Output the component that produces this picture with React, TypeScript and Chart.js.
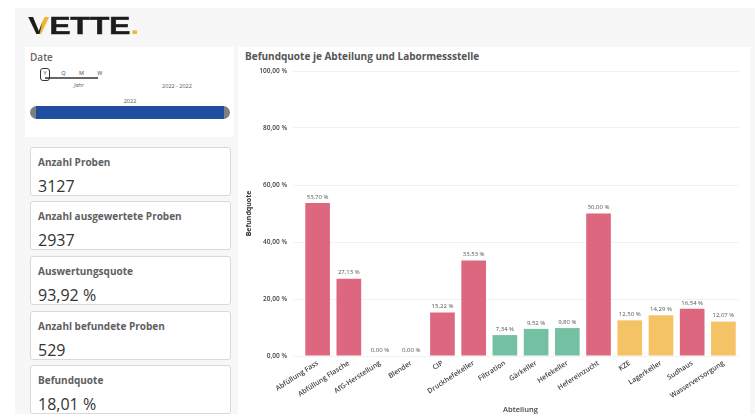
import React, { useEffect, useRef } from "react";
import { Chart, registerables } from "chart.js";

Chart.register(...registerables);

const categories = ["Abfüllung Fass", "Abfüllung Flasche", "AfG-Herstellung", "Blender", "CIP", "Druckhefekeller", "Filtration", "Gärkeller", "Hefekeller", "Hefereinzucht", "KZE", "Lagerkeller", "Sudhaus", "Wasserversorgung"];
const quote = [53.7, 27.13, 0, 0, 15.22, 33.53, 7.34, 9.52, 9.8, 50, 12.5, 14.29, 16.54, 12.07];
const colorGroup = ["r", "r", "r", "r", "r", "r", "g", "g", "g", "r", "y", "y", "r", "y"];
const palette: Record<string, string> = { r: "#DE6780", g: "#74C0A3", y: "#F3C365" };
const yTicks = [0, 20, 40, 60, 80, 100];
const kpis = [
  { title: "Anzahl Proben", value: "3127", top: 147 },
  { title: "Anzahl ausgewertete Proben", value: "2937", top: 201 },
  { title: "Auswertungsquote", value: "93,92 %", top: 256 },
  { title: "Anzahl befundete Proben", value: "529", top: 311 },
  { title: "Befundquote", value: "18,01 %", top: 365 },
];
const granularity = ["Y", "Q", "M", "W"];

const fmt = (v: number) => v.toFixed(2).replace(".", ",") + " %";
const FONT = "'Open Sans', sans-serif";

const barLabels = {
  id: "barLabels",
  afterDatasetsDraw(chart: any) {
    const { ctx } = chart;
    const meta = chart.getDatasetMeta(0);
    ctx.save();
    ctx.font = `6px ${FONT}`;
    ctx.fillStyle = "#555";
    ctx.textAlign = "center";
    ctx.textBaseline = "bottom";
    meta.data.forEach((bar: any, i: number) => {
      ctx.fillText(fmt(quote[i]), bar.x, bar.y - 3);
    });
    ctx.restore();
  },
};

const abs = (left: number, top: number, width?: number, height?: number): React.CSSProperties => ({
  position: "absolute", left, top, width, height, boxSizing: "border-box",
});

export default function App() {
  const ref = useRef<HTMLCanvasElement>(null);
  useEffect(() => {
    const chart = new Chart(ref.current!, {
      type: "bar",
      data: {
        labels: categories,
        datasets: [{
          data: quote,
          backgroundColor: colorGroup.map((c) => palette[c]),
          barPercentage: 0.79,
          categoryPercentage: 1,
        }],
      },
      plugins: [barLabels],
      options: {
        animation: false,
        responsive: false,
        layout: { padding: { top: 31, right: 16, left: 5, bottom: 0 } },
        plugins: {
          legend: { display: false },
          tooltip: { enabled: false },
        },
        scales: {
          x: {
            grid: { display: false },
            border: { display: false },
            ticks: { color: "#444", font: { size: 7, weight: 600, family: FONT }, maxRotation: 33, minRotation: 33, padding: -5, autoSkip: false },
            title: { display: true, text: "Abteilung", color: "#444", font: { size: 7.5, weight: 600, family: FONT }, padding: { top: 0, bottom: 0 } },
            afterFit(s: any) { s.height = 58; },
          },
          y: {
            min: 0,
            max: 100,
            afterBuildTicks(s: any) { s.ticks = yTicks.map((value) => ({ value })); },
            grid: { color: "#f2f2f2", drawTicks: true, tickLength: 9 },
            border: { display: false },
            ticks: { color: "#444", padding: 6, font: { size: 6.5, weight: 600, family: FONT }, callback: (v: any) => fmt(Number(v)) },
            title: { display: true, text: "Befundquote", color: "#333", font: { size: 7, weight: 700, family: FONT }, padding: 0 },
            afterFit(s: any) { s.width = 57; },
          },
        },
      },
    } as any);
    return () => chart.destroy();
  }, []);

  return (
    <div style={{ position: "fixed", inset: 0, width: 755, height: 414, overflow: "hidden", background: "#fff", fontFamily: FONT, filter: "blur(0.55px)" }}>
      <div style={{ ...abs(15, 8, 740, 406), background: "#f7f7f7" }} />

      {/* logo */}
      <div style={{ ...abs(28, 13, 140, 26), fontFamily: "'Liberation Sans', sans-serif", fontWeight: 700, fontSize: 24, lineHeight: "26px", color: "#1c1c1c", transform: "scaleX(1.34)", transformOrigin: "left top", whiteSpace: "nowrap", letterSpacing: -0.2, WebkitTextStroke: "0.4px #1c1c1c" }}>
        <span style={{ background: "linear-gradient(100deg,#1c1c1c 58%,#f2b632 62%)", WebkitBackgroundClip: "text", backgroundClip: "text", color: "transparent", WebkitTextStroke: "0px" }}>V</span>ETTE<span style={{ color: "#f2b632", WebkitTextStroke: "0px" }}>.</span>
      </div>

      {/* date slicer */}
      <div style={{ ...abs(25, 47, 209, 90), background: "#fff" }} />
      <div style={{ ...abs(30, 50), fontSize: 10, fontWeight: 600, color: "#666" }}>Date</div>
      <div style={{ ...abs(45, 77, 53, 2), background: "#666" }} />
      <div style={{ ...abs(40, 68, 10, 13), border: "1px solid #333", borderRadius: 3 }} />
      {granularity.map((g, i) => (
        <div key={g} style={{ ...abs(40 + i * 18.3, 69, 10), fontSize: 5.5, textAlign: "center", color: "#444" }}>{g}</div>
      ))}
      <div style={{ ...abs(66, 81, 26), fontSize: 5.5, fontStyle: "italic", color: "#555", textAlign: "center" }}>Jahr</div>
      <div style={{ ...abs(157, 82, 40), fontSize: 5.5, color: "#555", textAlign: "center", whiteSpace: "nowrap" }}>2022 - 2022</div>
      <div style={{ ...abs(120, 97, 20), fontSize: 5.5, color: "#555", textAlign: "center" }}>2022</div>
      <div style={{ ...abs(30, 106, 200, 13), background: "#7d7f85", borderRadius: 7 }} />
      <div style={{ ...abs(36, 106, 188, 13), background: "#1f4d9f" }} />

      {/* KPI cards */}
      {kpis.map((k) => (
        <div key={k.title} style={{ ...abs(30, k.top, 201, 49), background: "#fff", border: "1px solid #d9d9d9", borderRadius: 3, overflow: "hidden" }}>
          <div style={{ ...abs(7, 7), fontSize: 10, fontWeight: 700, color: "#606060", whiteSpace: "nowrap" }}>{k.title}</div>
          <div style={{ ...abs(7, 27), fontSize: 16, lineHeight: "22px", color: "#333", whiteSpace: "nowrap" }}>{k.value}</div>
        </div>
      ))}

      {/* chart panel */}
      <div style={{ ...abs(238, 47, 512, 367), background: "#fff" }} />
      <div style={{ ...abs(245, 49), fontSize: 10, fontWeight: 700, color: "#555", whiteSpace: "nowrap" }}>Befundquote je Abteilung und Labormessstelle</div>
      <canvas ref={ref} width={515} height={374} style={{ ...abs(240, 40, 515, 374), display: "block" }} />
    </div>
  );
}
